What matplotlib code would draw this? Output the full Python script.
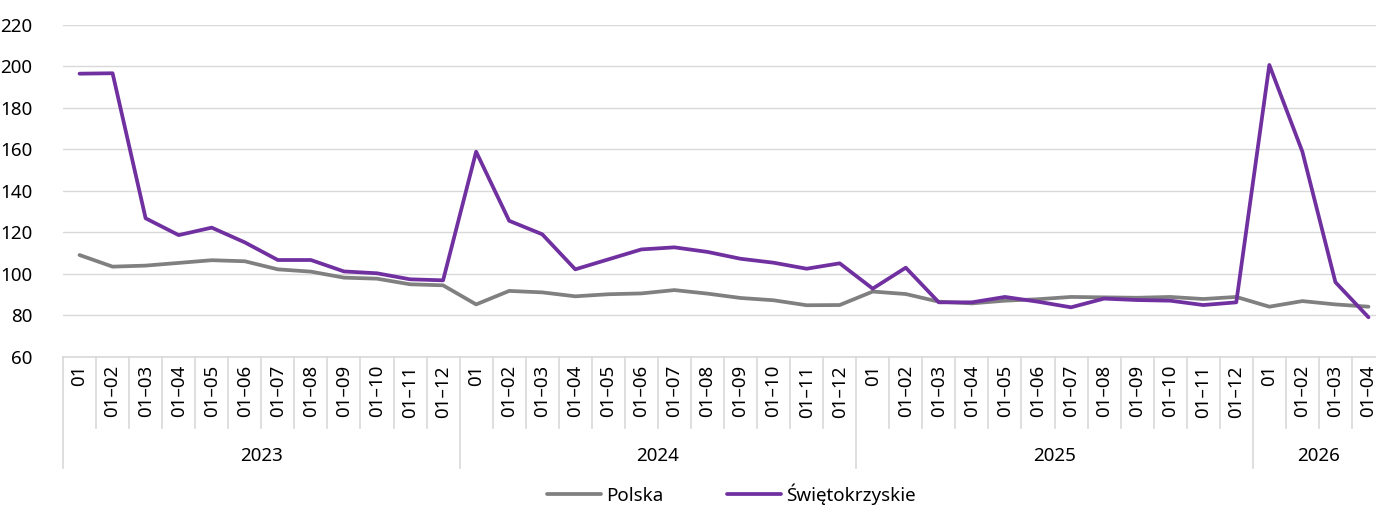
import numpy as np
import matplotlib
matplotlib.use("Agg")
import matplotlib.pyplot as plt
from matplotlib.transforms import blended_transform_factory

plt.rcParams['font.family'] = ['Noto Sans', 'DejaVu Sans']

years = ["2023", "2024", "2025", "2026"]
months_per_year = [12, 12, 12, 4]
month_labels = ["01", "01–02", "01–03", "01–04", "01–05", "01–06",
                "01–07", "01–08", "01–09", "01–10", "01–11", "01–12"]

polska = [109.0, 103.4, 103.9, 105.2, 106.5, 106.0, 102.1, 101.0, 98.1, 97.6, 94.9, 94.4,
          85.2, 91.7, 91.0, 89.1, 90.1, 90.5, 92.1, 90.4, 88.3, 87.2, 84.8, 84.9,
          91.4, 90.2, 86.5, 85.7, 87.0, 87.7, 88.8, 88.6, 88.4, 88.8, 87.8, 88.8,
          84.1, 86.8, 85.2, 84.1]
swietokrzyskie = [196.4, 196.6, 126.7, 118.6, 122.2, 115.1, 106.6, 106.6, 101.1, 100.2, 97.3, 96.8,
                  158.8, 125.5, 119.0, 102.1, 106.9, 111.7, 112.7, 110.5, 107.2, 105.3, 102.4, 105.0,
                  92.8, 102.9, 86.2, 86.2, 88.8, 86.5, 83.8, 88.0, 87.3, 87.0, 84.9, 86.2,
                  200.6, 158.8, 95.9, 79.0]

yticks = [60, 80, 100, 120, 140, 160, 180, 200, 220]

cat_labels = []
for n in months_per_year:
    cat_labels += month_labels[:n]
n_cat = len(cat_labels)
x = np.arange(n_cat)

fig = plt.figure(figsize=(13.76, 5.07), dpi=100)
ax = fig.add_axes([63/1376, 1-356.7/507, (1385-63)/1376, (356.7-24.7)/507])

grid_c = '#D9D9D9'
ax.plot(x, polska, color='#808080', lw=2.7, label='Polska', solid_joinstyle='round', solid_capstyle='round', zorder=3)
ax.plot(x, swietokrzyskie, color='#7030A0', lw=2.7, label='Świętokrzyskie', solid_joinstyle='round', solid_capstyle='round', zorder=4)

ax.set_ylim(60, 220)
ax.set_xlim(-0.5, n_cat - 0.5)
ax.set_yticks(yticks)
ax.yaxis.grid(True, color=grid_c, lw=1)
ax.set_axisbelow(True)
for s in ['top', 'right', 'left']:
    ax.spines[s].set_visible(False)
ax.spines['bottom'].set_color(grid_c)
ax.spines['bottom'].set_linewidth(1.2)
ax.tick_params(axis='y', length=0, labelsize=13.5, pad=22, colors='#000000')
ax.set_xticks([])

trans = blended_transform_factory(ax.transData, ax.transAxes)
# category labels
for i, lab in enumerate(cat_labels):
    ax.text(i, -0.025, lab, rotation=90, ha='center', va='top', fontsize=13.5,
            transform=trans, clip_on=False)

# separators
year_bounds = np.cumsum([0] + months_per_year)
for k in range(n_cat + 1):
    xb = k - 0.5
    if k in year_bounds:
        ax.plot([xb, xb], [0, -0.335], color=grid_c, lw=1.2, transform=trans, clip_on=False)
    else:
        ax.plot([xb, xb], [0, -0.214], color=grid_c, lw=1.2, transform=trans, clip_on=False)

# year labels
for j, yr in enumerate(years):
    center = (year_bounds[j] + year_bounds[j+1]) / 2 - 0.5
    ax.text(center, -0.3, yr, ha='center', va='center', fontsize=13.5,
            transform=trans, clip_on=False)

fig.legend(loc='center', bbox_to_anchor=(731/1376, 1-494/507), ncol=2, frameon=False,
           fontsize=13.5, handlelength=2.9, handletextpad=0.25, columnspacing=3.4)

fig.savefig('out.png', dpi=100)
